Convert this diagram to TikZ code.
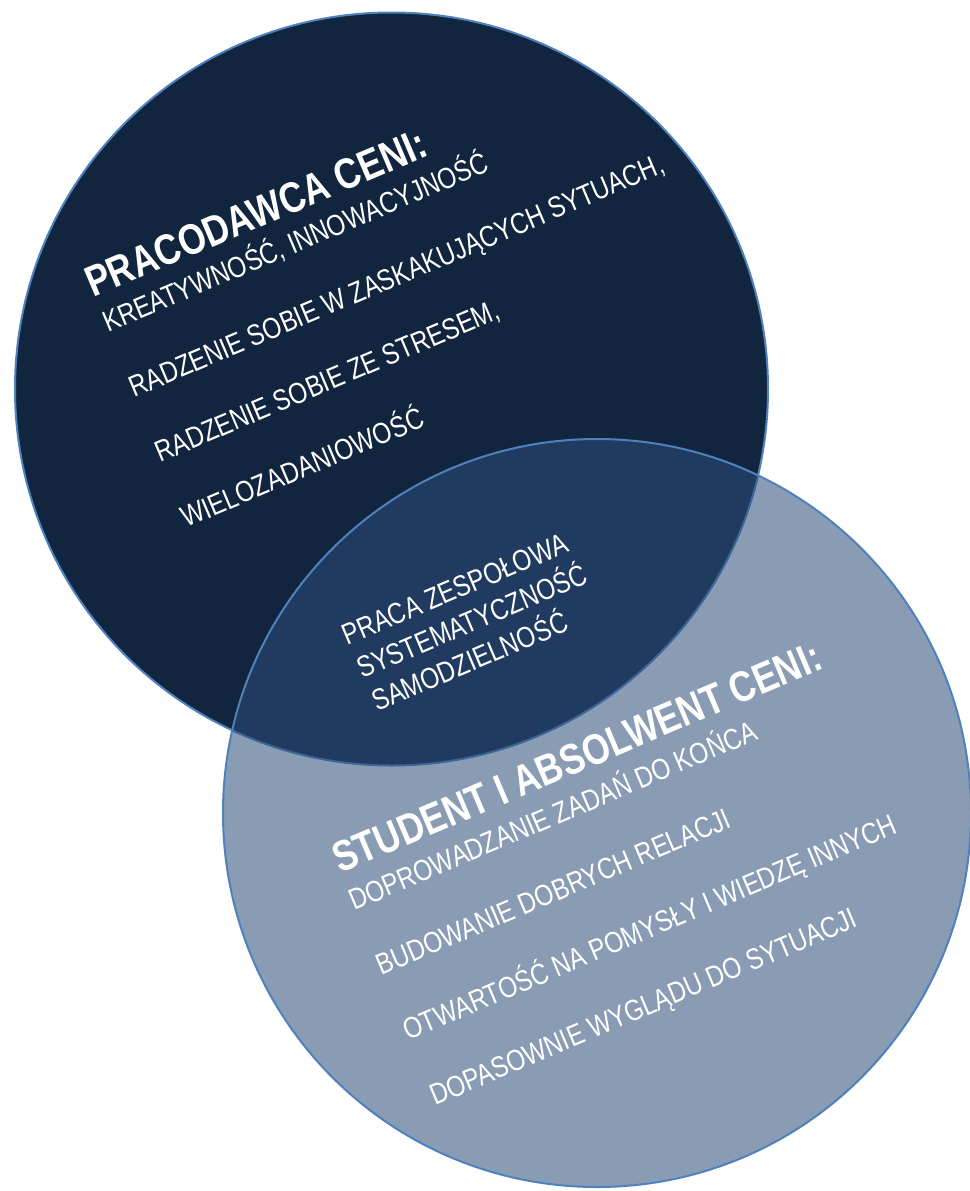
\documentclass[tikz,border=0pt]{standalone}
\usepackage{fontspec}
\setmainfont{Liberation Sans}[FakeStretch=0.82]
\definecolor{navy}{RGB}{18,37,63}
\definecolor{steel}{RGB}{44,78,122}
\definecolor{rim}{RGB}{79,129,189}
\tikzset{
  disc/.style={circle, inner sep=0pt, draw=rim, line width=2pt},
  lbl/.style={text=white, inner sep=0pt, anchor=base west, rotate=23,
    font=\fontsize{29.5}{35}\selectfont},
  ttl/.style={lbl, font=\fontsize{43}{48}\selectfont\bfseries}
}
\begin{document}
\begin{tikzpicture}[x=1pt,y=-1pt]
\useasboundingbox (0,0) rectangle (969,1191);
\fill[white] (0,0) rectangle (969,1191);
\node[disc, minimum size=753pt, fill=navy] (c1) at (391.5,389) {};
\node[disc, minimum size=748pt, fill=steel, fill opacity=0.555] (c2) at (597,813) {};
% employer block
\node[ttl] (t1) at (93,298) {PRACODAWCA CENI:};
\node[lbl] (a1) at (108,333) {KREATYWNOŚĆ, INNOWACYJNOŚĆ};
\node[lbl] (a2) at (134,398) {RADZENIE SOBIE W ZASKAKUJĄCYCH SYTUACH,};
\node[lbl] (a3) at (160,463) {RADZENIE SOBIE ZE STRESEM,};
\node[lbl] (a4) at (186,528) {WIELOZADANIOWOŚĆ};
% common block
\node[lbl] (m1) at (347,646) {PRACA ZESPOŁOWA};
\node[lbl] (m2) at (362,679) {SYSTEMATYCZNOŚĆ};
\node[lbl] (m3) at (377,712) {SAMODZIELNOŚĆ};
% student block
\node[ttl] (t2) at (340,874) {STUDENT I ABSOLWENT CENI:};
\node[lbl] (b1) at (354,911) {DOPROWADZANIE ZADAŃ DO KOŃCA};
\node[lbl] (b2) at (381,976) {BUDOWANIE DOBRYCH RELACJI};
\node[lbl] (b3) at (408,1041) {OTWARTOŚĆ NA POMYSŁY I WIEDZĘ INNYCH};
\node[lbl] (b4) at (435,1106) {DOPASOWNIE WYGLĄDU DO SYTUACJI};
\end{tikzpicture}
\end{document}
